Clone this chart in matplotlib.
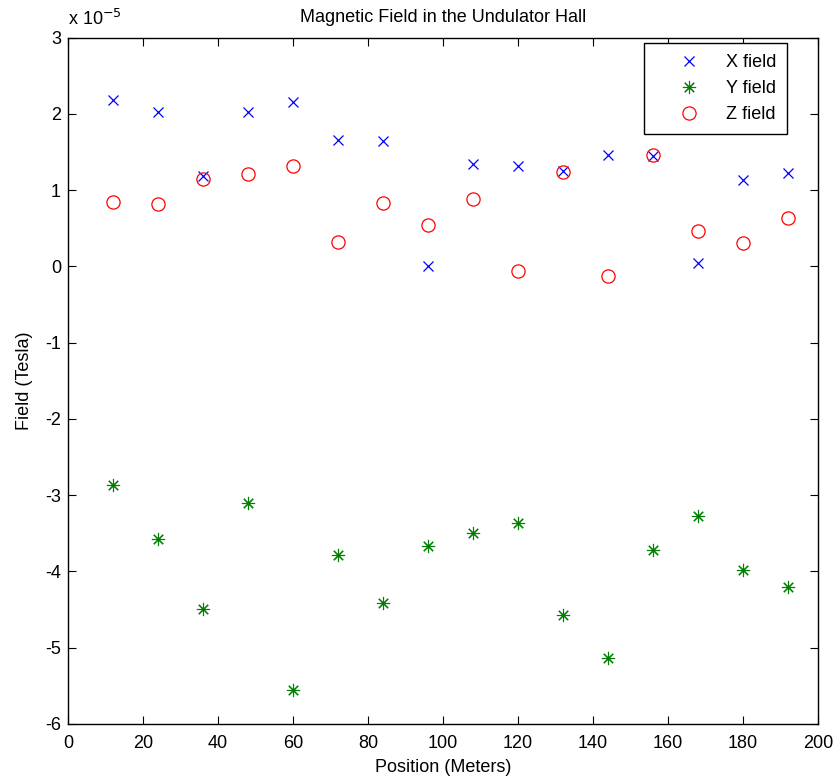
import numpy as np
import matplotlib as mpl
import matplotlib.pyplot as plt

# data (field values in units of 1e-5 Tesla)
position = [12, 24, 36, 48, 60, 72, 84, 96, 108, 120, 132, 144, 156, 168, 180, 192]
x_field = [2.18, 2.02, 1.19, 2.02, 2.16, 1.66, 1.64, 0.00, 1.34, 1.32, 1.25, 1.46, 1.45, 0.05, 1.13, 1.22]
y_field = [-2.87, -3.58, -4.49, -3.10, -5.56, -3.78, -4.41, -3.66, -3.50, -3.37, -4.57, -5.13, -3.72, -3.27, -3.98, -4.20]
z_field = [0.85, 0.82, 1.15, 1.21, 1.32, 0.32, 0.835, 0.54, 0.89, -0.06, 1.24, -0.13, 1.46, 0.46, 0.31, 0.63]

# drawing style
mpl.rcParams['font.family'] = ['Liberation Sans', 'DejaVu Sans']
mpl.rcParams['font.size'] = 13
mpl.rcParams['axes.unicode_minus'] = False
mpl.rcParams['axes.linewidth'] = 1.0
mpl.rcParams['xtick.direction'] = 'in'
mpl.rcParams['ytick.direction'] = 'in'
mpl.rcParams['xtick.top'] = True
mpl.rcParams['ytick.right'] = True
mpl.rcParams['xtick.major.size'] = 6
mpl.rcParams['ytick.major.size'] = 6

fig = plt.figure(figsize=(8.38, 7.83), dpi=100)
ax = fig.add_axes([0.0811, 0.0754, 0.895, 0.8766])

ax.plot(position, x_field, 'x', color=(0, 0, 1), ms=7, mew=0.9, label='X field')
ax.plot(position, y_field, ls='none', marker=(8, 2, 0), color=(0, 0.5, 0), ms=9.5, mew=0.8, label='Y field')
ax.plot(position, z_field, 'o', color=(1, 0, 0), mfc='none', ms=9.5, mew=0.9, label='Z field')

ax.set_xlim(0, 200)
ax.set_ylim(-6, 3)
ax.set_xticks(np.arange(0, 201, 20))
ax.set_yticks(np.arange(-6, 4, 1))
ax.tick_params(axis='x', pad=8)
ax.tick_params(axis='y', pad=5)

ax.set_xlabel('Position (Meters)', labelpad=5)
ax.set_ylabel('Field (Tesla)', labelpad=9)
ax.set_title('Magnetic Field in the Undulator Hall', fontsize=13, pad=11)
ax.text(0.0, 1.012, r'x 10$^{-5}$', transform=ax.transAxes, ha='left', va='bottom')

leg = ax.legend(loc='upper right', bbox_to_anchor=(0.9587, 0.992), borderaxespad=0,
                fancybox=False, edgecolor='k', framealpha=1, handlelength=3.8,
                handletextpad=0.15, borderpad=0.6, labelspacing=0.5, fontsize=13)
leg.get_frame().set_linewidth(1.0)

plt.savefig('out.png', dpi=100)
